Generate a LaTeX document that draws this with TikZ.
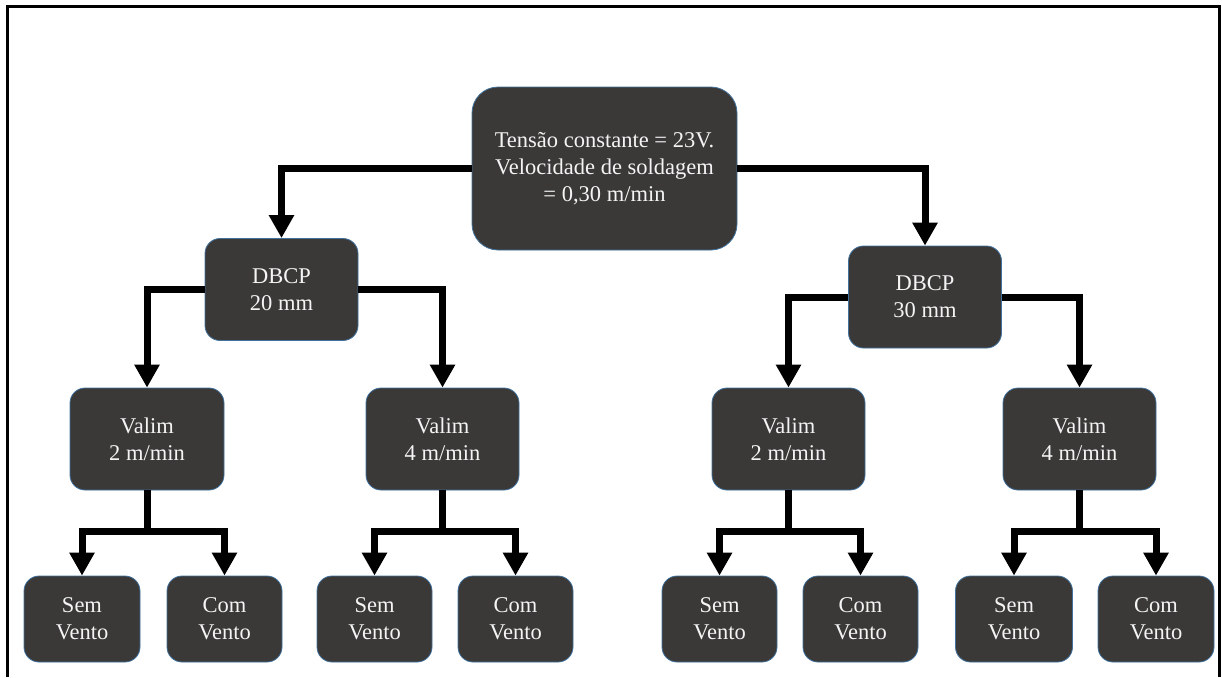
\documentclass[tikz,border=0pt]{standalone}
\usepackage{fontspec}
\setmainfont{Liberation Serif}
\usetikzlibrary{arrows.meta}
\definecolor{boxfill}{HTML}{3A3938}
\definecolor{boxedge}{HTML}{41719C}
\definecolor{boxtext}{HTML}{F4F4F4}
\tikzset{
  box/.style={draw=boxedge, line width=0.8pt, fill=boxfill, text=boxtext, rounded corners=15pt,
    align=center, inner sep=0pt, font=\fontsize{22.5}{27}\selectfont},
  arr/.style={line width=7pt, -{Triangle[width=24pt,length=23pt]}},
  lin/.style={line width=7pt},
}
\begin{document}
\begin{tikzpicture}[x=1pt,y=-1pt]
\useasboundingbox (0,0) rectangle (1222,677);
% frame (no bottom edge)
\draw[line width=3pt] (7,677) -- (7,7) -- (1219,7) -- (1219,677);

\node[box, rounded corners=26pt, minimum width=265pt, minimum height=163pt] (top) at (604.5,168.5)
  {Tensão constante = 23V.\\Velocidade de soldagem\\= 0,30 m/min};

\node[box, minimum width=153pt, minimum height=102pt] (d20) at (281.5,289.5) {DBCP\\20 mm};
\node[box, minimum width=153pt, minimum height=102pt] (d30) at (925,297) {DBCP\\30 mm};

\node[box, minimum width=154pt, minimum height=102pt] (v1) at (147,439) {Valim\\2 m/min};
\node[box, minimum width=153pt, minimum height=102pt] (v2) at (442.5,439) {Valim\\4 m/min};
\node[box, minimum width=153pt, minimum height=102pt] (v3) at (788.5,439) {Valim\\2 m/min};
\node[box, minimum width=153pt, minimum height=102pt] (v4) at (1079.5,439) {Valim\\4 m/min};

\node[box, minimum width=116pt, minimum height=86pt] (s1) at (82,619) {Sem\\Vento};
\node[box, minimum width=115pt, minimum height=86pt] (c1) at (224.5,619) {Com\\Vento};
\node[box, minimum width=115pt, minimum height=86pt] (s2) at (374.5,619) {Sem\\Vento};
\node[box, minimum width=115pt, minimum height=86pt] (c2) at (515.5,619) {Com\\Vento};
\node[box, minimum width=115pt, minimum height=86pt] (s3) at (719.5,619) {Sem\\Vento};
\node[box, minimum width=115pt, minimum height=86pt] (c3) at (860.5,619) {Com\\Vento};
\node[box, minimum width=117pt, minimum height=86pt] (s4) at (1014,619) {Sem\\Vento};
\node[box, minimum width=116pt, minimum height=86pt] (c4) at (1156,619) {Com\\Vento};

% top level
\draw[arr] (top.west) -| (d20.north);
\draw[arr] (top.east) -| (d30.north);
% second level
\draw[arr] (d20.west) -| (v1.north);
\draw[arr] (d20.east) -| (v2.north);
\draw[arr] (d30.west) -| (v3.north);
\draw[arr] (d30.east) -| (v4.north);
% third level
\coordinate (j1) at (147,531);
\coordinate (j2) at (442.5,531);
\coordinate (j3) at (788.5,531);
\coordinate (j4) at (1079.5,531);
\foreach \v/\j/\s/\c in {v1/j1/s1/c1, v2/j2/s2/c2, v3/j3/s3/c3, v4/j4/s4/c4}{
  \draw[lin] (\v.south) -- (\j);
  \draw[arr] (\j) -| (\s.north);
  \draw[arr] (\j) -| (\c.north);
}
\end{tikzpicture}
\end{document}
